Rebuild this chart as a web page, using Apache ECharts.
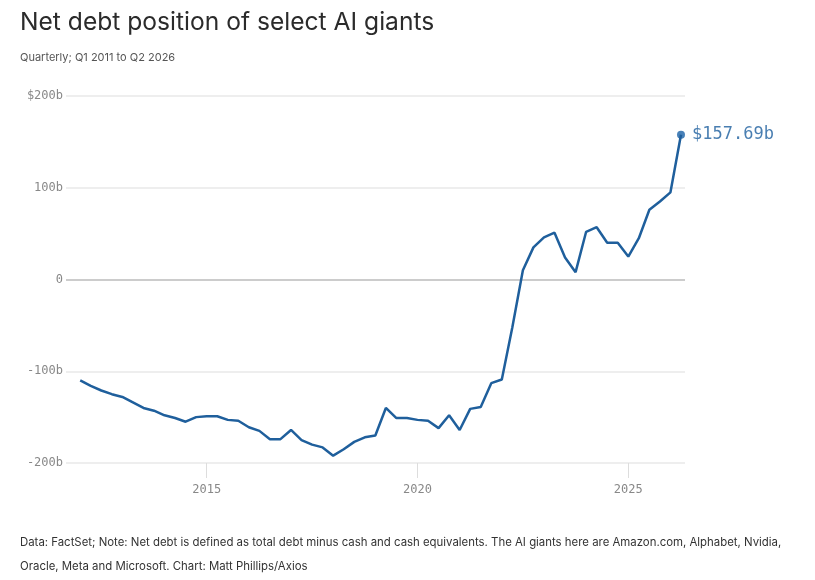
<!DOCTYPE html>
<html>
<head>
<meta charset="utf-8">
<script src="https://cdn.jsdelivr.net/npm/echarts@6/dist/echarts.min.js"></script>
<style>
  html, body { margin: 0; padding: 0; background: #fff; }
  #chart { width: 815px; height: 580px; }
</style>
</head>
<body>
<div id="chart"></div>
<script>
// first quarter shown is Q1 2012, one value per quarter up to Q2 2026
var startYear = 2012;
// net debt, $ billions
var netDebt = [
  -110, -116, -121, -125, -128, -134, -140, -143,
  -148, -151, -155, -150, -149, -149, -153, -154,
  -161, -165, -174, -174, -164, -175, -180, -183,
  -192, -185, -177, -172, -170, -140, -151, -151,
  -153, -154, -162, -148, -164, -141, -139, -113,
  -109, -52, 10, 35, 46, 51, 24, 8,
  52, 57, 40, 40, 25, 45, 76, 85,
  95, 157.69
];
var yearTicks = [2015, 2020, 2025];
var yTicks = [-200, -100, 0, 100, 200];

var lineData = netDebt.map(function (v, i) {
  return [startYear + i / 4, v];
});
var last = lineData[lineData.length - 1];

var monoFont = "'DejaVu Sans Mono', 'Liberation Mono', monospace";
var sansFont = "Inter, 'Noto Sans', sans-serif";

var myChart = echarts.init(document.getElementById("chart"));
var option = {
  backgroundColor: "#fff",
  animation: false,
  title: [
    {
      text: "Net debt position of select AI giants",
      left: 15,
      top: 5,
      textStyle: { fontFamily: sansFont, fontSize: 24.6, fontWeight: "normal", color: "#2b2b2b" },
    },
    {
      text: "Quarterly; Q1 2011 to Q2 2026",
      left: 15,
      top: 47,
      textStyle: { fontFamily: sansFont, fontSize: 11, fontWeight: "normal", color: "#555" },
    },
    {
      text: "Data: FactSet; Note: Net debt is defined as total debt minus cash and cash equivalents. The AI giants here are Amazon.com, Alphabet, Nvidia,",
      left: 15,
      top: 532,
      textStyle: { fontFamily: sansFont, fontSize: 11.4, fontWeight: "normal", color: "#333" },
    },
    {
      text: "Oracle, Meta and Microsoft. Chart: Matt Phillips/Axios",
      left: 15,
      top: 556,
      textStyle: { fontFamily: sansFont, fontSize: 11.4, fontWeight: "normal", color: "#333" },
    },
  ],
  grid: {
    left: 66,
    right: 130,
    top: 96,
    bottom: 117,
    containLabel: false,
  },
  xAxis: {
    type: "value",
    min: 2011.663,
    max: 2026.345,
    axisLine: { show: false, onZero: false },
    splitLine: { show: false },
    axisTick: {
      show: true,
      length: 15,
      customValues: yearTicks,
      lineStyle: { color: "#ddd" },
    },
    axisLabel: {
      customValues: yearTicks,
      margin: 21,
      color: "#888",
      fontFamily: monoFont,
      fontSize: 12,
      formatter: function (v) {
        return String(v);
      },
    },
  },
  yAxis: {
    type: "value",
    min: -200,
    max: 200,
    interval: 100,
    axisLine: { show: false },
    axisTick: { show: false },
    axisLabel: {
      margin: 3,
      color: "#888",
      fontFamily: monoFont,
      fontSize: 12,
      formatter: function (v) {
        if (v === 200) return "$200b";
        if (v === 0) return "0";
        return v + "b";
      },
    },
    splitLine: {
      lineStyle: {
        color: yTicks.map(function (t) { return t === 0 ? "#ccc" : "#eee"; }),
        width: 2,
      },
    },
  },
  series: [
    {
      type: "line",
      data: lineData,
      showSymbol: false,
      lineStyle: { color: "#1f5f9c", width: 2.5 },
      itemStyle: { color: "#1f5f9c" },
    },
    {
      type: "scatter",
      data: [last],
      symbolSize: 8,
      itemStyle: { color: "#1a62a6" },
      label: {
        show: true,
        position: "right",
        distance: 7,
        formatter: function (p) {
          return "$" + p.value[1].toFixed(2) + "b";
        },
        color: "#1b5e9e",
        fontFamily: monoFont,
        fontSize: 17,
      },
    },
  ],
};
myChart.setOption(option);
</script>
</body>
</html>
